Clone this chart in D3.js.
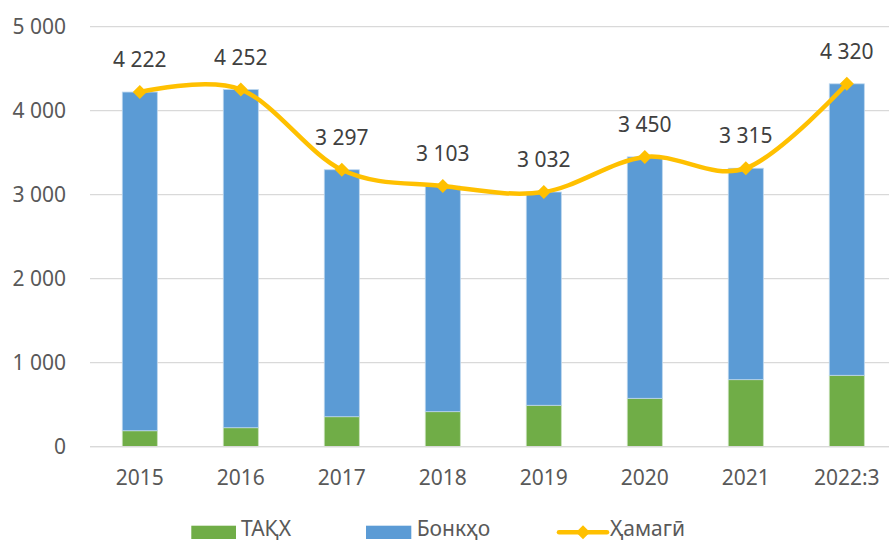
<!DOCTYPE html>
<html><head><meta charset="utf-8">
<script src="https://cdn.jsdelivr.net/npm/d3@7"></script>
<style>body{margin:0;background:#fff}svg{display:block}</style>
</head><body>
<svg id="c" width="889" height="541"></svg>
<script>
const categories = ["2015","2016","2017","2018","2019","2020","2021","2022:3"];
const total = [4222,4252,3297,3103,3032,3450,3315,4320];
const takh = [190,226,357,417,493,576,798,850];
const bonk = total.map((t,i)=>t-takh[i]);
const yTicks = [0,1000,2000,3000,4000,5000];
const seriesNames = ["ТАҚХ","Бонкҳо","Ҳамагӣ"];
const colors = {takh:"#70AD47", bonk:"#5B9BD5", total:"#FFC000"};

const svg = d3.select("#c");
const font = "'Noto Sans', sans-serif";
const fmt = v => d3.format(",")(v).replace(/,/g," ");

const x = d3.scaleBand().domain(categories).range([89.3,897.3]).paddingInner(0.653).paddingOuter(0.3265);
const y = d3.scaleLinear().domain([0,5000]).range([446.7,26.7]);

// grid
svg.append("g").selectAll("line").data(yTicks).join("line")
  .attr("x1",90).attr("x2",889).attr("y1",d=>y(d)).attr("y2",d=>y(d))
  .attr("stroke","#d9d9d9").attr("stroke-width",1.3);

// y labels
svg.append("g").selectAll("text").data(yTicks).join("text")
  .attr("x",66).attr("y",d=>y(d)).attr("dy","0.36em").attr("text-anchor","end")
  .attr("font-family",font).attr("font-size",21).attr("fill","#595959")
  .text(d=>fmt(d));

// bars
const bw = x.bandwidth();
const g = svg.append("g");
g.selectAll("rect.t").data(categories).join("rect").attr("class","t")
  .attr("x",d=>x(d)).attr("width",bw)
  .attr("y",(d,i)=>y(takh[i])).attr("height",(d,i)=>y(0)-y(takh[i]))
  .attr("fill",colors.takh).attr("stroke","#c8e0b8").attr("stroke-width",0.8);
g.selectAll("rect.b").data(categories).join("rect").attr("class","b")
  .attr("x",d=>x(d)).attr("width",bw)
  .attr("y",(d,i)=>y(total[i])).attr("height",(d,i)=>y(takh[i])-y(total[i]))
  .attr("fill",colors.bonk).attr("stroke","#bcd6ee").attr("stroke-width",0.8);

// x axis line
svg.append("line").attr("x1",90).attr("x2",889).attr("y1",y(0)).attr("y2",y(0))
  .attr("stroke","#d9d9d9").attr("stroke-width",1.3);

// x labels
svg.append("g").selectAll("text").data(categories).join("text")
  .attr("x",d=>x(d)+bw/2).attr("y",485).attr("text-anchor","middle")
  .attr("font-family",font).attr("font-size",21).attr("fill","#595959")
  .text(d=>d);

// line
const pts = categories.map((c,i)=>[x(c)+bw/2, y(total[i])]);
svg.append("path").attr("d", d3.line().curve(d3.curveCatmullRom.alpha(0))(pts))
  .attr("fill","none").attr("stroke",colors.total).attr("stroke-width",4.5).attr("stroke-linejoin","round");
const diamond = (cx,cy,r)=>`M${cx},${cy-r}L${cx+r},${cy}L${cx},${cy+r}L${cx-r},${cy}Z`;
svg.append("g").selectAll("path").data(pts).join("path")
  .attr("d",p=>diamond(p[0],p[1],7)).attr("fill",colors.total);

// data labels
svg.append("g").selectAll("text").data(pts).join("text")
  .attr("x",p=>p[0]).attr("y",p=>p[1]-25).attr("text-anchor","middle")
  .attr("font-family",font).attr("font-size",21).attr("fill","#404040")
  .text((p,i)=>fmt(total[i]));

// legend
const lg = svg.append("g").attr("font-family",font).attr("font-size",21).attr("fill","#595959");
lg.append("rect").attr("x",191.3).attr("y",525.7).attr("width",44.7).attr("height",13.3).attr("fill",colors.takh);
lg.append("text").attr("x",241).attr("y",536).text(seriesNames[0]);
lg.append("rect").attr("x",366).attr("y",525.7).attr("width",45.3).attr("height",13.3).attr("fill",colors.bonk);
lg.append("text").attr("x",416.7).attr("y",536).text(seriesNames[1]);
lg.append("line").attr("x1",559).attr("x2",607).attr("y1",532.3).attr("y2",532.3)
  .attr("stroke",colors.total).attr("stroke-width",4.5).attr("stroke-linecap","round");
lg.append("path").attr("d",diamond(583,532.3,7)).attr("fill",colors.total);
lg.append("text").attr("x",610).attr("y",536).text(seriesNames[2]);
</script>
</body></html>
